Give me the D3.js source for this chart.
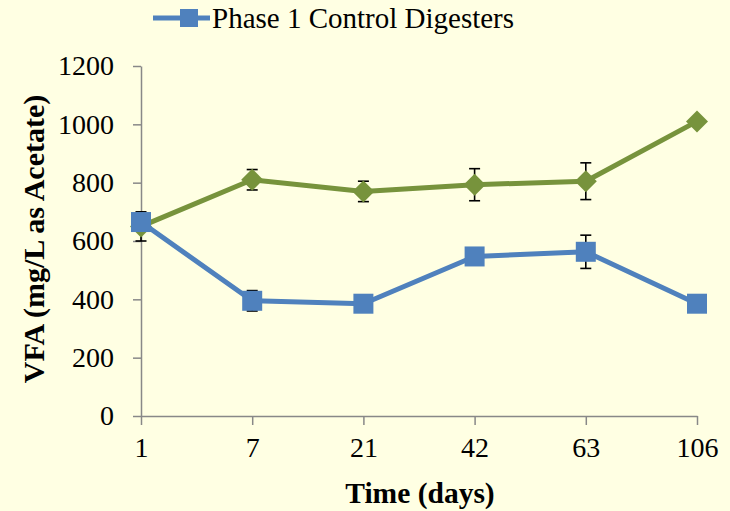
<!DOCTYPE html>
<html>
<head>
<meta charset="utf-8">
<script src="https://cdn.jsdelivr.net/npm/d3@7"></script>
<style>
  body { margin: 0; background: #FFFFE3; }
  svg { display: block; }
  .axis path, .axis line { stroke: #888; stroke-width: 1.5px; }
</style>
</head>
<body>
<div id="chart"></div>
<script>
  // data
  var days = ['1', '7', '21', '42', '63', '106'];
  var controlVals = [665, 395, 385, 547, 563, 385];
  var controlErr = [10, 35, 10, 10, 57, 10];
  var otherVals = [650, 810, 770, 793, 805, 1010];
  var otherErr = [50, 35, 35, 55, 63, 8];
  var yTicks = [0, 200, 400, 600, 800, 1000, 1200];
  var legendLabel = 'Phase 1 Control Digesters';

  var serif = '"Liberation Serif", "Times New Roman", "DejaVu Serif", serif';

  var W = 730, H = 511;
  var margin = { top: 66, left: 141, bottom: 95, right: 33 },
    width = W - margin.left - margin.right,
    height = H - margin.top - margin.bottom;

  var svg = d3.select('#chart').append('svg')
    .attr('width', W)
    .attr('height', H);

  svg.append('rect').attr('width', W).attr('height', H).attr('fill', '#FFFFE3');

  var g = svg.append('g')
    .attr('transform', 'translate(' + margin.left + ',' + margin.top + ')');

  var x = d3.scalePoint().domain(days).range([0, width]);
  var y = d3.scaleLinear().domain([0, 1200]).range([height, 0]);

  var xAxis = d3.axisBottom(x).tickSize(9).tickPadding(8).tickSizeOuter(0);
  var yAxis = d3.axisLeft(y).tickValues(yTicks).tickFormat(d3.format('d'))
    .tickSize(8).tickPadding(19).tickSizeOuter(0);

  var yg = g.append('g').attr('class', 'axis')
    .call(yAxis);

  var xg = g.append('g').attr('class', 'axis')
    .attr('transform', 'translate(0,' + height + ')')
    .call(xAxis);
  xg.selectAll('.tick text').attr('dy', '0.85em');

  g.selectAll('.axis')
    .attr('font-family', serif)
    .attr('font-size', 28);
  g.selectAll('.axis .tick text')
    .style('font-family', serif)
    .style('font-size', '28px')
    .attr('fill', '#000');

  // axis titles
  svg.append('text')
    .attr('transform', 'translate(44,' + (margin.top + height / 2 - 2) + ') rotate(-90)')
    .attr('text-anchor', 'middle')
    .style('font-family', serif)
    .style('font-weight', 'bold')
    .style('font-size', '30px')
    .text('VFA (mg/L as Acetate)');

  svg.append('text')
    .attr('x', 420)
    .attr('y', 503)
    .attr('text-anchor', 'middle')
    .style('font-family', serif)
    .style('font-weight', 'bold')
    .style('font-size', '29.5px')
    .text('Time (days)');

  var line = d3.line()
    .x((d, i) => x(days[i]))
    .y(d => y(d));

  function drawSeries(vals, errs, color, shape) {
    var s = g.append('g');
    s.append('path')
      .datum(vals)
      .attr('fill', 'none')
      .attr('stroke', color)
      .attr('stroke-width', 5)
      .attr('stroke-linejoin', 'round')
      .attr('d', line);

    var eb = s.selectAll('.err')
      .data(vals)
      .enter().append('g')
      .attr('stroke', '#000')
      .attr('stroke-width', 1.6);
    eb.append('line')
      .attr('x1', (d, i) => x(days[i])).attr('x2', (d, i) => x(days[i]))
      .attr('y1', (d, i) => y(d + errs[i])).attr('y2', (d, i) => y(d - errs[i]));
    eb.append('line')
      .attr('x1', (d, i) => x(days[i]) - 5.5).attr('x2', (d, i) => x(days[i]) + 5.5)
      .attr('y1', (d, i) => y(d + errs[i])).attr('y2', (d, i) => y(d + errs[i]));
    eb.append('line')
      .attr('x1', (d, i) => x(days[i]) - 5.5).attr('x2', (d, i) => x(days[i]) + 5.5)
      .attr('y1', (d, i) => y(d - errs[i])).attr('y2', (d, i) => y(d - errs[i]));

    s.selectAll('.mark')
      .data(vals)
      .enter().append('path')
      .attr('fill', color)
      .attr('transform', (d, i) => 'translate(' + x(days[i]) + ',' + y(d) + ')')
      .attr('d', shape === 'square' ? 'M-10,-10H10V10H-10Z' : 'M0,-11L11,0L0,11L-11,0Z');
  }

  drawSeries(otherVals, otherErr, '#77933C', 'diamond');
  drawSeries(controlVals, controlErr, '#4F81BD', 'square');

  // legend
  var lg = svg.append('g');
  lg.append('line')
    .attr('x1', 153).attr('x2', 210).attr('y1', 18).attr('y2', 18)
    .attr('stroke', '#4F81BD').attr('stroke-width', 5);
  lg.append('rect')
    .attr('x', 180).attr('y', 9).attr('width', 18).attr('height', 18)
    .attr('fill', '#4F81BD');
  lg.append('text')
    .attr('x', 212).attr('y', 28)
    .style('font-family', serif)
    .style('font-size', '29px')
    .text(legendLabel);
</script>
</body>
</html>
